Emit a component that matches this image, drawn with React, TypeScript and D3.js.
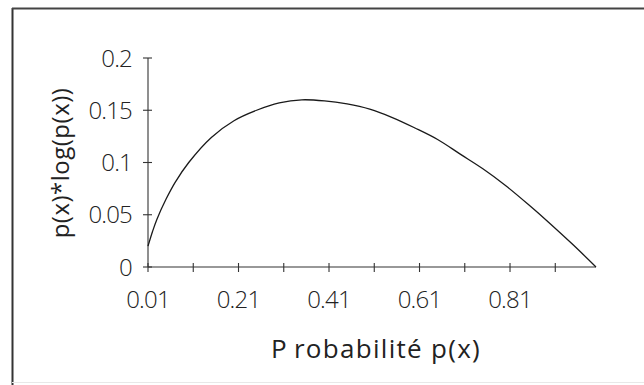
import React from "react";
import * as d3 from "d3";

const probs = [0.01, 0.02, 0.03, 0.05, 0.07, 0.1, 0.15, 0.2, 0.25, 0.3, 0.35, 0.4, 0.45, 0.5, 0.55, 0.6, 0.65, 0.7, 0.75, 0.8, 0.85, 0.9, 0.95, 1.0];
const values = [0.02, 0.034, 0.046, 0.065, 0.081, 0.1, 0.124, 0.14, 0.15, 0.157, 0.16, 0.159, 0.156, 0.151, 0.143, 0.133, 0.122, 0.108, 0.094, 0.078, 0.06, 0.041, 0.021, 0.0];
const xTicks = [0.01, 0.11, 0.21, 0.31, 0.41, 0.51, 0.61, 0.71, 0.81, 0.91];
const xTickLabels = ["0.01", "", "0.21", "", "0.41", "", "0.61", "", "0.81", ""];
const yTicks = [0, 0.05, 0.1, 0.15, 0.2];
const yTickLabels = ["0", "0.05", "0.1", "0.15", "0.2"];
const xTitleFirst = "P";
const xTitleRest = "robabilité p(x)";
const yTitle = "p(x)*log(p(x))";

const W = 644;
const H = 385;
const FONT = "'Open Sans', sans-serif";

export default function App() {
  const x = d3.scaleLinear().domain([0.01, 1.0]).range([148, 596]);
  const y = d3.scaleLinear().domain([0, 0.2]).range([267, 58]);
  const pts = probs.map((p, i) => [p, values[i]] as [number, number]);
  const line = d3
    .line<[number, number]>()
    .x((d) => x(d[0]))
    .y((d) => y(d[1]))
    .curve(d3.curveCatmullRom.alpha(0.5));
  const ink = "#333";
  return (
    <svg
      width={W}
      height={H}
      style={{ position: "absolute", left: 0, top: 0, background: "#fff" }}
    >
      <rect x={0} y={0} width={W} height={H} fill="#fff" />
      {/* frame */}
      <line x1={12.5} y1={8} x2={12.5} y2={H} stroke="#333" strokeWidth={2} />
      <line x1={12} y1={8.5} x2={W} y2={8.5} stroke="#444" strokeWidth={2} />
      <line x1={12} y1={382.5} x2={W} y2={382.5} stroke="#e8e8e8" strokeWidth={1} />

      {/* axes */}
      <line x1={x(0.01)} y1={y(0)} x2={x(1.0)} y2={y(0)} stroke={ink} strokeWidth={1.1} />
      <line x1={x(0.01)} y1={y(0)} x2={x(0.01)} y2={y(0.2)} stroke={ink} strokeWidth={1.1} />
      {yTicks.map((t, i) => (
        <g key={"y" + i}>
          <line x1={x(0.01) - 5} x2={x(0.01) + 4} y1={y(t)} y2={y(t)} stroke={ink} strokeWidth={1.1} />
          <text
            x={x(0.01) - 16}
            y={y(t)}
            dy="0.36em"
            textAnchor="end"
            fontFamily={FONT}
            fontWeight={300}
            fontSize={24}
            letterSpacing={-0.8}
            fill="#222"
          >
            {yTickLabels[i]}
          </text>
        </g>
      ))}
      {xTicks.map((t, i) => (
        <g key={"x" + i}>
          <line x1={x(t)} x2={x(t)} y1={y(0) - 4} y2={y(0) + 5} stroke={ink} strokeWidth={1.1} />
          {xTickLabels[i] && (
            <text
              x={x(t)}
              y={308}
              textAnchor="middle"
              fontFamily={FONT}
              fontWeight={300}
              fontSize={24}
              letterSpacing={-0.8}
              fill="#222"
            >
              {xTickLabels[i]}
            </text>
          )}
        </g>
      ))}

      {/* curve */}
      <path d={line(pts) || ""} fill="none" stroke="#1a1a1a" strokeWidth={1.3} />

      {/* titles */}
      <text
        x={376}
        y={358}
        textAnchor="middle"
        fontFamily={FONT}
        fontWeight={500}
        fontSize={26}
        letterSpacing={1.3}
        fill="#222"
      >
        <tspan>{xTitleFirst}</tspan>
        <tspan dx={6}>{xTitleRest}</tspan>
      </text>
      <text
        transform={`translate(${69},${163}) rotate(-90)`}
        textAnchor="middle"
        fontFamily={FONT}
        fontWeight={500}
        fontSize={24}
        letterSpacing={0.5}
        fill="#222"
      >
        {yTitle}
      </text>
    </svg>
  );
}
